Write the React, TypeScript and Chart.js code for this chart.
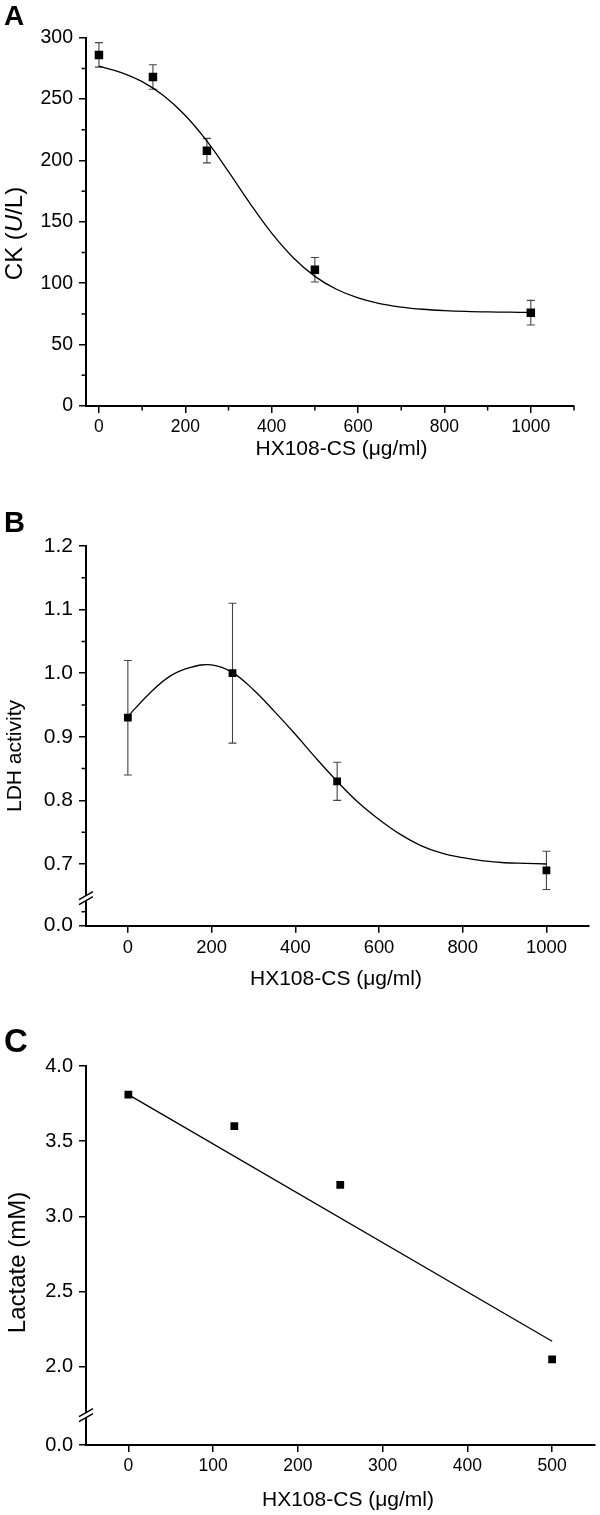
import React, { useEffect, useRef } from 'react';
import { Chart, registerables } from 'chart.js';

Chart.register(...registerables);

const FONT = '"Liberation Sans", Arial, Helvetica, sans-serif';

// ---------- Panel A : CK ----------
const A_DOSE = [0, 125, 250, 500, 1000];
const A_CK = [286, 268, 208, 111, 76];
const A_CK_ERR = [10, 10, 10, 10, 10];
const A_FIT_X = [0, 50, 100, 150, 200, 250, 300, 350, 400, 450, 500, 550, 600, 650, 700, 750, 800, 850, 900, 950, 1000];
const A_FIT_Y = [276.8, 271.8, 264.2, 252.7, 236.6, 215.7, 190.9, 164.9, 140.8, 120.8, 105.6, 95.1, 88.0, 83.4, 80.6, 78.8, 77.7, 77.0, 76.6, 76.4, 76.2];
const A_X_TICKS = [0, 200, 400, 600, 800, 1000];
const A_X_LABELS = ['0', '200', '400', '600', '800', '1000'];
const A_X_MINOR = [100, 300, 500, 700, 900, 1100];
const A_Y_TICKS = [0, 50, 100, 150, 200, 250, 300];
const A_Y_LABELS = ['0', '50', '100', '150', '200', '250', '300'];
const A_Y_MINOR = [25, 75, 125, 175, 225, 275];

// ---------- Panel B : LDH ----------
const B_DOSE = [0, 250, 500, 1000];
const B_LDH = [0.93, 1.0, 0.83, 0.69];
const B_LDH_ERR = [0.09, 0.11, 0.03, 0.03];
const B_FIT_X = [0, 50, 100, 150, 200, 250, 300, 350, 400, 450, 500, 550, 600, 650, 700, 750, 800, 850, 900, 950, 1000];
const B_FIT_Y = [0.932, 0.967, 0.995, 1.009, 1.013, 1.001, 0.974, 0.940, 0.904, 0.866, 0.830, 0.797, 0.770, 0.747, 0.729, 0.717, 0.710, 0.705, 0.702, 0.701, 0.700];
const B_X_TICKS = [0, 200, 400, 600, 800, 1000];
const B_X_LABELS = ['0', '200', '400', '600', '800', '1000'];
const B_Y_TICKS = [0.603, 0.7, 0.8, 0.9, 1.0, 1.1, 1.2];
const B_Y_LABELS = ['0.0', '0.7', '0.8', '0.9', '1.0', '1.1', '1.2'];
const B_Y_MINOR = [0.625, 0.75, 0.85, 0.95, 1.05, 1.15];
const B_BREAK = 0.6465;

// ---------- Panel C : Lactate ----------
const C_DOSE = [0, 125, 250, 500];
const C_LACTATE = [3.81, 3.6, 3.21, 2.05];
const C_FIT_X = [0, 500];
const C_FIT_Y = [3.81, 2.17];
const C_X_TICKS = [0, 100, 200, 300, 400, 500];
const C_X_LABELS = ['0', '100', '200', '300', '400', '500'];
const C_Y_TICKS = [1.48, 2.0, 2.5, 3.0, 3.5, 4.0];
const C_Y_LABELS = ['0.0', '2.0', '2.5', '3.0', '3.5', '4.0'];
const C_BREAK = 1.679;

type Part = { t: string; italic?: boolean };

type Spec = {
  top: number;
  width: number;
  height: number;
  padTop: number;
  padRight: number;
  yAxisWidth: number;
  xAxisHeight: number;
  xMin: number;
  xMax: number;
  yMin: number;
  yMax: number;
  xTicks: number[];
  xLabels: string[];
  xMinor: number[];
  yTicks: number[];
  yLabels: string[];
  yMinor: number[];
  breakValue?: number;
  xTickFont: number;
  yTickFont: number;
  px: number[];
  py: number[];
  err?: number[];
  fitX: number[];
  fitY: number[];
  smooth: boolean;
  markerRadius: number;
  letter: { t: string; x: number; y: number; size: number };
  xTitle: { parts: Part[]; cx: number; cy: number; size: number };
  yTitle: { parts: Part[]; cx: number; cy: number; size: number };
};

const SPEC_A: Spec = {
  top: 0, width: 600, height: 480,
  padTop: 37.7, padRight: 26, yAxisWidth: 86, xAxisHeight: 74,
  xMin: -30, xMax: 1100, yMin: 0, yMax: 300,
  xTicks: A_X_TICKS, xLabels: A_X_LABELS, xMinor: A_X_MINOR,
  yTicks: A_Y_TICKS, yLabels: A_Y_LABELS, yMinor: A_Y_MINOR,
  xTickFont: 17.5, yTickFont: 19.5,
  px: A_DOSE, py: A_CK, err: A_CK_ERR,
  fitX: A_FIT_X, fitY: A_FIT_Y, smooth: true, markerRadius: 6,
  letter: { t: 'A', x: 4, y: 25, size: 28 },
  xTitle: { parts: [{ t: 'HX108-CS (μg/ml)' }], cx: 341.5, cy: 449, size: 21 },
  yTitle: { parts: [{ t: 'CK (' }, { t: 'U', italic: true }, { t: '/L)' }], cx: 15, cy: 233.5, size: 24 },
};

const SPEC_B: Spec = {
  top: 480, width: 600, height: 530,
  padTop: 66, padRight: 11.7, yAxisWidth: 86, xAxisHeight: 84.3,
  xMin: -100, xMax: 1100, yMin: 0.603, yMax: 1.2,
  xTicks: B_X_TICKS, xLabels: B_X_LABELS, xMinor: [],
  yTicks: B_Y_TICKS, yLabels: B_Y_LABELS, yMinor: B_Y_MINOR,
  breakValue: B_BREAK,
  xTickFont: 18.4, yTickFont: 21,
  px: B_DOSE, py: B_LDH, err: B_LDH_ERR,
  fitX: B_FIT_X, fitY: B_FIT_Y, smooth: true, markerRadius: 5.5,
  letter: { t: 'B', x: 4, y: 52, size: 29 },
  xTitle: { parts: [{ t: 'HX108-CS (μg/ml)' }], cx: 336, cy: 499, size: 21 },
  yTitle: { parts: [{ t: 'LDH activity' }], cx: 15, cy: 276, size: 21 },
};

const SPEC_C: Spec = {
  top: 1010, width: 600, height: 505,
  padTop: 56, padRight: 3.3, yAxisWidth: 86, xAxisHeight: 70,
  xMin: -50, xMax: 550, yMin: 1.48, yMax: 4.0,
  xTicks: C_X_TICKS, xLabels: C_X_LABELS, xMinor: [],
  yTicks: C_Y_TICKS, yLabels: C_Y_LABELS, yMinor: [],
  breakValue: C_BREAK,
  xTickFont: 17.5, yTickFont: 20,
  px: C_DOSE, py: C_LACTATE,
  fitX: C_FIT_X, fitY: C_FIT_Y, smooth: false, markerRadius: 5.5,
  letter: { t: 'C', x: 4, y: 42, size: 33 },
  xTitle: { parts: [{ t: 'HX108-CS (μg/ml)' }], cx: 348, cy: 490, size: 21 },
  yTitle: { parts: [{ t: 'Lactate (mM)' }], cx: 18, cy: 252.5, size: 24 },
};

function drawParts(ctx: CanvasRenderingContext2D, parts: Part[], size: number, cx: number, cy: number, rotate: boolean) {
  ctx.save();
  ctx.translate(cx, cy);
  if (rotate) ctx.rotate(-Math.PI / 2);
  ctx.textBaseline = 'middle';
  ctx.textAlign = 'left';
  ctx.fillStyle = '#000';
  const fonts = parts.map((p) => `${p.italic ? 'italic ' : ''}${size}px ${FONT}`);
  let total = 0;
  const widths = parts.map((p, i) => {
    ctx.font = fonts[i];
    const w = ctx.measureText(p.t).width;
    total += w;
    return w;
  });
  let x = -total / 2;
  parts.forEach((p, i) => {
    ctx.font = fonts[i];
    ctx.fillText(p.t, x, 0);
    x += widths[i];
  });
  ctx.restore();
}

function makeDecor(spec: Spec) {
  return {
    id: 'decor',
    beforeDatasetsDraw(chart: any) {
      if (!spec.err) return;
      const ctx: CanvasRenderingContext2D = chart.ctx;
      const xs = chart.scales.x;
      const ys = chart.scales.y;
      ctx.save();
      ctx.strokeStyle = '#444';
      ctx.lineWidth = 1.1;
      ctx.beginPath();
      spec.px.forEach((xv, i) => {
        const e = spec.err![i];
        const x = xs.getPixelForValue(xv);
        const y1 = ys.getPixelForValue(spec.py[i] + e);
        const y2 = ys.getPixelForValue(spec.py[i] - e);
        ctx.moveTo(x, y1);
        ctx.lineTo(x, y2);
        ctx.moveTo(x - 4, y1);
        ctx.lineTo(x + 4, y1);
        ctx.moveTo(x - 4, y2);
        ctx.lineTo(x + 4, y2);
      });
      ctx.stroke();
      ctx.restore();
    },
    afterDraw(chart: any) {
      const ctx: CanvasRenderingContext2D = chart.ctx;
      const xs = chart.scales.x;
      const ys = chart.scales.y;
      const area = chart.chartArea;
      ctx.save();
      ctx.strokeStyle = '#000';
      ctx.lineWidth = 1.5;
      ctx.beginPath();
      spec.xMinor.forEach((v) => {
        const x = xs.getPixelForValue(v);
        ctx.moveTo(x, area.bottom);
        ctx.lineTo(x, area.bottom + 4.5);
      });
      spec.yMinor.forEach((v) => {
        const y = ys.getPixelForValue(v);
        ctx.moveTo(area.left - 4.5, y);
        ctx.lineTo(area.left, y);
      });
      ctx.stroke();

      if (spec.breakValue !== undefined) {
        const yb = ys.getPixelForValue(spec.breakValue);
        const x = area.left;
        ctx.fillStyle = '#fff';
        ctx.beginPath();
        ctx.moveTo(x - 7, yb + 1.5);
        ctx.lineTo(x + 7, yb - 6.5);
        ctx.lineTo(x + 7, yb - 1.5);
        ctx.lineTo(x - 7, yb + 6.5);
        ctx.closePath();
        ctx.fill();
        ctx.strokeStyle = '#000';
        ctx.lineWidth = 1.5;
        ctx.beginPath();
        ctx.moveTo(x - 7, yb + 1.5);
        ctx.lineTo(x + 7, yb - 6.5);
        ctx.moveTo(x - 7, yb + 6.5);
        ctx.lineTo(x + 7, yb - 1.5);
        ctx.stroke();
      }
      ctx.restore();

      drawParts(ctx, spec.xTitle.parts, spec.xTitle.size, spec.xTitle.cx, spec.xTitle.cy, false);
      drawParts(ctx, spec.yTitle.parts, spec.yTitle.size, spec.yTitle.cx, spec.yTitle.cy, true);

      ctx.save();
      ctx.fillStyle = '#000';
      ctx.font = `bold ${spec.letter.size}px ${FONT}`;
      ctx.textBaseline = 'alphabetic';
      ctx.textAlign = 'left';
      ctx.fillText(spec.letter.t, spec.letter.x, spec.letter.y);
      ctx.restore();
    },
  };
}

function Panel({ spec }: { spec: Spec }) {
  const ref = useRef<HTMLCanvasElement | null>(null);
  useEffect(() => {
    const canvas = ref.current;
    if (!canvas) return;
    const fitData = spec.fitX.map((x, i) => ({ x, y: spec.fitY[i] }));
    const pts = spec.px.map((x, i) => ({ x, y: spec.py[i] }));
    const chart = new Chart(canvas, {
      type: 'scatter',
      data: {
        datasets: [
          {
            data: fitData,
            showLine: true,
            pointRadius: 0,
            borderColor: '#000',
            backgroundColor: '#000',
            borderWidth: 1.3,
            cubicInterpolationMode: 'default',
            tension: spec.smooth ? 0.4 : 0,
            fill: false,
          } as any,
          {
            data: pts,
            showLine: false,
            pointStyle: 'rect',
            pointRadius: spec.markerRadius,
            backgroundColor: '#000',
            borderColor: '#000',
            borderWidth: 0,
          } as any,
        ],
      },
      options: {
        animation: false,
        responsive: false,
        maintainAspectRatio: false,
        devicePixelRatio: 1,
        events: [],
        layout: { padding: { top: spec.padTop, right: spec.padRight, left: 0, bottom: 0 } },
        plugins: { legend: { display: false }, tooltip: { enabled: false } },
        scales: {
          x: {
            type: 'linear',
            min: spec.xMin,
            max: spec.xMax,
            bounds: 'data',
            afterBuildTicks: (s: any) => {
              s.ticks = spec.xTicks.map((v) => ({ value: v }));
            },
            afterFit: (s: any) => {
              s.height = spec.xAxisHeight;
            },
            ticks: {
              autoSkip: false,
              maxRotation: 0,
              padding: 4,
              color: '#000',
              font: { family: FONT, size: spec.xTickFont },
              callback: (_v: any, i: number) => spec.xLabels[i],
            },
            grid: { display: true, drawOnChartArea: false, drawTicks: true, tickLength: 7, color: '#000', lineWidth: 1.5 },
            border: { display: true, color: '#000', width: 2 },
            title: { display: false },
          },
          y: {
            type: 'linear',
            min: spec.yMin,
            max: spec.yMax,
            bounds: 'data',
            afterBuildTicks: (s: any) => {
              s.ticks = spec.yTicks.map((v) => ({ value: v }));
            },
            afterFit: (s: any) => {
              s.width = spec.yAxisWidth;
            },
            ticks: {
              autoSkip: false,
              padding: 6,
              color: '#000',
              font: { family: FONT, size: spec.yTickFont },
              callback: (_v: any, i: number) => spec.yLabels[i],
            },
            grid: { display: true, drawOnChartArea: false, drawTicks: true, tickLength: 7, color: '#000', lineWidth: 1.5 },
            border: { display: true, color: '#000', width: 2 },
            title: { display: false },
          },
        },
      } as any,
      plugins: [makeDecor(spec)],
    });
    return () => chart.destroy();
  }, [spec]);

  return (
    <div style={{ position: 'absolute', left: 0, top: spec.top, width: spec.width, height: spec.height }}>
      <canvas ref={ref} width={spec.width} height={spec.height} style={{ display: 'block', width: spec.width, height: spec.height }} />
    </div>
  );
}

export default function App() {
  return (
    <div style={{ position: 'absolute', left: 0, top: 0, width: 600, height: 1515, background: '#fff', overflow: 'hidden' }}>
      <Panel spec={SPEC_A} />
      <Panel spec={SPEC_B} />
      <Panel spec={SPEC_C} />
    </div>
  );
}
